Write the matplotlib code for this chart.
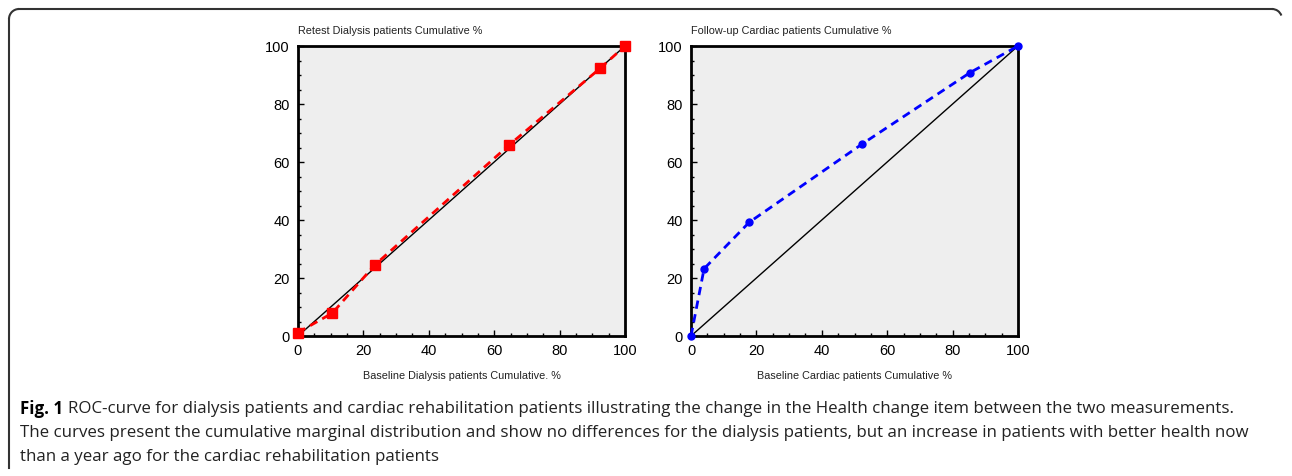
import matplotlib
matplotlib.use('Agg')
import matplotlib.pyplot as plt
from matplotlib.ticker import MultipleLocator
from matplotlib.lines import Line2D
from matplotlib.patches import Arc

plt.rcParams['font.family'] = ['Liberation Sans', 'DejaVu Sans']

# data
dial_x = [0, 10.5, 23.5, 64.6, 92.5, 100]
dial_y = [1.2, 7.9, 24.5, 65.9, 92.4, 100]
card_x = [0, 4.0, 17.8, 52.2, 85.3, 100]
card_y = [0, 23.2, 39.2, 66.1, 90.8, 100]
diag = [0, 100]

titles = ['Retest Dialysis patients Cumulative %', 'Follow-up Cardiac patients Cumulative %']
xlabels = ['Baseline Dialysis patients Cumulative. %', 'Baseline Cardiac patients Cumulative %']
ticks = [0, 20, 40, 60, 80, 100]

W, H = 1292, 476
fig = plt.figure(figsize=(W / 100, H / 100), dpi=100)


def style_axes(ax, title, xlabel):
    ax.set_facecolor('#eeeeee')
    ax.set_xlim(0, 100)
    ax.set_ylim(0, 100)
    ax.set_xticks(ticks)
    ax.set_yticks(ticks)
    ax.xaxis.set_minor_locator(MultipleLocator(5))
    ax.yaxis.set_minor_locator(MultipleLocator(5))
    ax.tick_params(which='both', direction='in', labelsize=10.5, pad=6,
                   top=False, right=False)
    ax.tick_params(which='major', length=4, width=1)
    ax.tick_params(which='minor', length=2.5, width=1)
    for s in ax.spines.values():
        s.set_linewidth(2)
    ax.text(0.0, 1.035, title, transform=ax.transAxes, fontsize=7.8,
            ha='left', va='bottom', color='#222222')
    ax.set_xlabel(xlabel, fontsize=7.8, labelpad=9, color='#222222')


ax1 = fig.add_axes([298 / W, 1 - 336 / H, 327 / W, 290 / H])
ax2 = fig.add_axes([691 / W, 1 - 336 / H, 327 / W, 290 / H])

ax1.plot(diag, diag, color='black', lw=1, zorder=2)
ax1.plot(dial_x, dial_y, '--', color='#ff0000', lw=2, dashes=(3, 2),
         marker='s', markersize=7, clip_on=False, zorder=3)
style_axes(ax1, titles[0], xlabels[0])

ax2.plot(diag, diag, color='black', lw=1, zorder=2)
ax2.plot(card_x, card_y, '--', color='#0000ff', lw=2, dashes=(3, 2),
         marker='o', markersize=5, clip_on=False, zorder=3)
style_axes(ax2, titles[1], xlabels[1])

# rounded frame round the figure and caption
r = 10
ec = '#333333'
fig.add_artist(Line2D([9 / W, 9 / W], [1 - (9 + r) / H, 1 - 468 / H],
                      color=ec, lw=1.5, transform=fig.transFigure))
fig.add_artist(Line2D([(9 + r) / W, (1282 - r) / W], [1 - 9 / H, 1 - 9 / H],
                      color=ec, lw=1.5, transform=fig.transFigure))
fig.add_artist(Arc(((9 + r) / W, 1 - (9 + r) / H), 2 * r / W, 2 * r / H,
                   theta1=90, theta2=180, color=ec, lw=1.5,
                   transform=fig.transFigure))
fig.add_artist(Arc(((1282 - r) / W, 1 - (9 + r) / H), 2 * r / W, 2 * r / H,
                   theta1=45, theta2=90, color=ec, lw=1.5,
                   transform=fig.transFigure))

cap_font = ['Open Sans', 'DejaVu Sans']
line1 = ('ROC-curve for dialysis patients and cardiac rehabilitation patients illustrating '
         'the change in the Health change item between the two measurements.')
line2 = ('The curves present the cumulative marginal distribution and show no differences '
         'for the dialysis patients, but an increase in patients with better health now')
line3 = 'than a year ago for the cardiac rehabilitation patients'
fs = 12.2
t = fig.text(20 / W, 1 - 409 / H, 'Fig. 1', fontsize=fs, fontweight='bold',
             family=cap_font, va='center', ha='left')
fig.canvas.draw()
bb = t.get_window_extent()
fig.text((bb.x1 + 5) / W, 1 - 409 / H, line1, fontsize=fs, family=cap_font,
         va='center', ha='left', color='#222222')
fig.text(20 / W, 1 - 433 / H, line2, fontsize=fs, family=cap_font,
         va='center', ha='left', color='#222222')
fig.text(20 / W, 1 - 457 / H, line3, fontsize=fs, family=cap_font,
         va='center', ha='left', color='#222222')

fig.savefig('out.png', dpi=100)
